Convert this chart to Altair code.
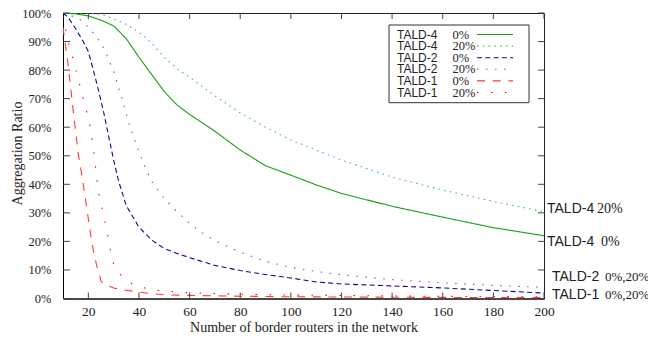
import altair as alt
import pandas as pd

# ---------------- data ----------------
series = ["TALD-4 0%", "TALD-4 20%", "TALD-2 0%", "TALD-2 20%", "TALD-1 0%", "TALD-1 20%"]
series_name = ["TALD-4", "TALD-4", "TALD-2", "TALD-2", "TALD-1", "TALD-1"]
series_pct = ["0%", "20%", "0%", "20%", "0%", "20%"]

tald4_0_x = [10, 15, 20, 25, 30, 35, 40, 45, 50, 55, 60, 70, 80, 90, 100, 110, 120, 140, 160, 180, 200]
tald4_0_y = [100, 99.7, 99, 97.5, 95.5, 91, 84.5, 78.5, 72.5, 67.8, 64.5, 58.6, 52, 46.5, 43.2, 39.8, 36.8, 32.3, 28.5, 24.8, 22]

tald4_20_x = [10, 20, 25, 30, 35, 40, 45, 50, 55, 60, 70, 80, 90, 100, 110, 120, 140, 160, 180, 200]
tald4_20_y = [100, 99.9, 99.5, 98, 96, 93.3, 89.5, 84.5, 80.5, 77.5, 71, 65, 60, 55.5, 52, 48.5, 42.5, 38, 34, 30.4]

tald2_0_x = [10, 12, 15, 18, 20, 22, 24, 26, 28, 30, 32, 35, 40, 45, 50, 55, 60, 70, 80, 90, 100, 110, 120, 140, 160, 180, 200]
tald2_0_y = [100, 98.5, 94.5, 90, 86.5, 80, 73, 65.5, 57, 48.5, 41, 32.5, 25, 20.5, 17.5, 15.8, 14.3, 11.6, 9.8, 8.4, 7.2, 5.8, 5.1, 4.4, 3.7, 2.8, 1.9]

tald2_20_x = [10, 15, 18, 20, 23, 25, 27, 30, 33, 36, 40, 42, 45, 50, 55, 60, 65, 70, 80, 90, 100, 110, 120, 140, 160, 180, 200]
tald2_20_y = [100, 98.5, 97, 95, 92, 89.5, 86, 79.5, 71, 61.5, 51.5, 47, 41, 35, 30.4, 26.3, 23, 20.3, 16.2, 13, 10.9, 9.5, 8.3, 6.6, 5.5, 4.6, 3.9]

tald1_0_x = [10, 12, 14, 16, 18, 20, 21.5, 22.5, 23.5, 24.5, 25, 27, 30, 34, 38, 44, 50, 60, 80, 100, 150, 200]
tald1_0_y = [95, 82, 66, 51, 40, 28, 19, 14.5, 11, 8, 6, 4.8, 3.7, 3, 2.5, 1.8, 1.3, 1.1, 0.8, 0.6, 0.4, 0.3]

tald1_20_x = [10, 12, 14, 16, 18, 20, 21, 22.5, 24, 26, 27.5, 28.5, 29.5, 30.5, 34, 38, 44, 50, 60, 80, 100, 150, 200]
tald1_20_y = [99, 90, 84, 77, 70, 63, 59, 49, 37, 29.5, 23, 18, 13.5, 10.6, 7, 4.8, 3.2, 2.6, 2, 1.5, 1.2, 0.8, 0.6]

x_ticks = [20, 40, 60, 80, 100, 120, 140, 160, 180, 200]
y_ticks = [0, 10, 20, 30, 40, 50, 60, 70, 80, 90, 100]

end_name = ["TALD-4", "TALD-4", "TALD-2", "TALD-1"]
end_pct = ["20%", "0%", "0%,20%", "0%,20%"]
end_y = [31.3, 19.9, 7.6, 1.2]

# ---------------- styles ----------------
colors = ["#17a017", "#3cc83c", "#0a0a96", "#5a5ae6", "#ff3a3a", "#ff0000"]
dashes = [[1, 0], [1.5, 4.3], [5, 3.3], [1.5, 7.5], [8, 7.7], [1.5, 12.5]]

W, H = 481, 285.5
SERIF = "Liberation Serif"
SANS = "Liberation Sans"
TXT = "#222222"
XLAB, YLAB = 13.5, 12.5

X = [tald4_0_x, tald4_20_x, tald2_0_x, tald2_20_x, tald1_0_x, tald1_20_x]
Y = [tald4_0_y, tald4_20_y, tald2_0_y, tald2_20_y, tald1_0_y, tald1_20_y]
rows = []
for s, xs, ys in zip(series, X, Y):
    for xv, yv in zip(xs, ys):
        rows.append({"series": s, "routers": xv, "ratio": yv})
df = pd.DataFrame(rows)

xscale = alt.Scale(domain=[10, 200], nice=False, zero=False)
yscale = alt.Scale(domain=[0, 100], nice=False, zero=False)
color_enc = alt.Color("series:N", scale=alt.Scale(domain=series, range=colors), legend=None)
dash_enc = alt.StrokeDash("series:N", scale=alt.Scale(domain=series, range=dashes), legend=None)

xaxis = alt.Axis(
    values=x_ticks, title="Number of border routers in the network", grid=False,
    ticks=False, tickSize=0, labelPadding=13, labelBaseline="middle",
    labelFont=SERIF, labelFontSize=XLAB, labelColor=TXT,
    labelFlush=False, labelOverlap=False, titleY=28.5, titleBaseline="middle")
yaxis = alt.Axis(
    values=y_ticks, labelExpr="datum.value + '%'", title="Aggregation Ratio", grid=False,
    ticks=False, tickSize=0, labelPadding=12, labelFlush=False, labelOverlap=False,
    labelFont=SERIF, labelFontSize=YLAB, labelColor=TXT,
    titleX=-45.5, titleY=140, titleBaseline="middle")

lines = alt.Chart(df).mark_line(strokeWidth=1.1, strokeCap="butt", clip=True).encode(
    x=alt.X("routers:Q", scale=xscale, axis=xaxis),
    y=alt.Y("ratio:Q", scale=yscale, axis=yaxis),
    color=color_enc,
    strokeDash=dash_enc,
)

xt = pd.DataFrame({"v": x_ticks})
yt = pd.DataFrame({"v": y_ticks})
tick_col = "#444444"
tb = alt.Chart(xt).mark_rule(color=tick_col).encode(
    x=alt.X("v:Q", scale=xscale, axis=xaxis), y=alt.value(H), y2=alt.value(H - 6))
tt = alt.Chart(xt).mark_rule(color=tick_col).encode(
    x=alt.X("v:Q", scale=xscale, axis=xaxis), y=alt.value(0), y2=alt.value(6))
tl = alt.Chart(yt).mark_rule(color=tick_col).encode(
    y=alt.Y("v:Q", scale=yscale, axis=yaxis), x=alt.value(0), x2=alt.value(7))
tr = alt.Chart(yt).mark_rule(color=tick_col).encode(
    y=alt.Y("v:Q", scale=yscale, axis=yaxis), x=alt.value(W), x2=alt.value(W - 6))

ends = pd.DataFrame({"i": range(len(end_name)), "name": end_name, "pct": end_pct,
                     "y": end_y, "x": [200] * len(end_name)})


def end_text(field, cond, dx, font, size):
    return alt.Chart(ends).transform_filter(cond).mark_text(
        align="left", baseline="middle", dx=dx, font=font, fontSize=size, color=TXT
    ).encode(x=alt.X("x:Q", scale=xscale, axis=xaxis),
             y=alt.Y("y:Q", scale=yscale, axis=yaxis), text=f"{field}:N")


ends_layers = [
    end_text("name", "datum.i < 2", 3, SANS, 14),
    end_text("name", "datum.i >= 2", 8, SANS, 14),
    end_text("pct", "datum.i == 0", 53, SERIF, 14),
    end_text("pct", "datum.i == 1", 57, SERIF, 14),
    end_text("pct", "datum.i >= 2", 61, SERIF, 13),
]

main = alt.layer(lines, tb, tt, tl, tr, *ends_layers)

# ---------------- legend (gnuplot style key) ----------------
leg = pd.DataFrame({"i": range(len(series)), "series": series,
                    "name": series_name, "pct": series_pct})
box = alt.Chart(pd.DataFrame({"k": [0]})).mark_rect(
    fill="white", stroke="#333333", strokeWidth=1).encode(
    x=alt.value(326), x2=alt.value(466), y=alt.value(12), y2=alt.value(89.7))
ly = alt.Y("i:Q", scale=alt.Scale(domain=[0, 5], range=[21.5, 79.5]), axis=None)
lname = alt.Chart(leg).mark_text(align="left", baseline="middle", font=SANS,
                                 fontSize=12, color=TXT).encode(
    x=alt.value(334), y=ly, text="name:N")
lpct = alt.Chart(leg).mark_text(align="left", baseline="middle", font=SERIF,
                                fontSize=12.5, color=TXT).encode(
    x=alt.value(389.5), y=ly, text="pct:N")
lsym = alt.Chart(leg).mark_rule(strokeWidth=1.1, strokeCap="butt").encode(
    x=alt.value(414), x2=alt.value(450), y=ly, color=color_enc, strokeDash=dash_enc)
legend = alt.layer(box, lname, lpct, lsym)

chart = alt.layer(main, legend).resolve_scale(y="independent").properties(
    width=W, height=H,
    autosize=alt.AutoSizeParams(type="none"),
    padding={"left": 55, "top": 5, "right": 104, "bottom": 37},
).configure_view(
    stroke="#222222", strokeWidth=1
).configure_axis(
    labelFont=SERIF, labelColor=TXT, titleFont=SERIF, titleColor=TXT,
    titleFontWeight="normal", titleFontSize=14, domainColor="#000000",
).configure_axisX(
    labelFontSize=XLAB
).configure_axisY(
    labelFontSize=YLAB
).configure_axisBottom(
    labelFontSize=XLAB
).configure_axisLeft(
    labelFontSize=YLAB
)

chart.save("out.html", embed_options={"renderer": "svg", "actions": False})
